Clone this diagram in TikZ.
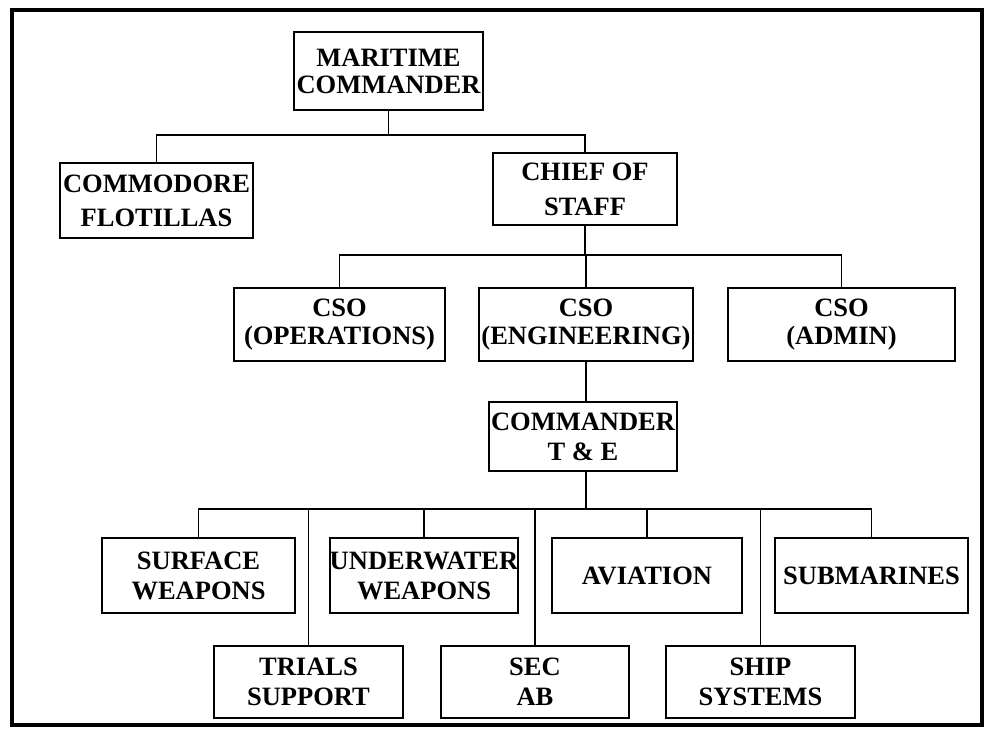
\documentclass[tikz,border=0pt]{standalone}
\usepackage{fontspec}
\setmainfont{Liberation Serif}
\begin{document}
\begin{tikzpicture}[x=1pt,y=-1pt,
  box/.style={draw, line width=2pt, rectangle, align=center, inner sep=0pt,
    font=\fontsize{26.5}{30}\selectfont\bfseries},
  lead/.style={font=\fontsize{26.5}{#1}\selectfont\bfseries},
  link/.style={line width=1.7pt},
  outer/.style={line width=4pt}]
\useasboundingbox (0,0) rectangle (985,735);
\draw[outer] (12,10) rectangle (982,725);

% top level
\node[box, lead=27, minimum width=189pt, minimum height=78pt] (mc) at (388.5,71) {MARITIME\\COMMANDER};
\node[box, lead=34, minimum width=193pt, minimum height=75pt] (cf) at (156.5,200.5) {COMMODORE\\FLOTILLAS};
\node[box, lead=35, minimum width=184pt, minimum height=72pt] (cos) at (585,189) {CHIEF OF\\STAFF};

% staff officers
\node[box, lead=28, minimum width=211pt, minimum height=73pt] (ops) at (339.5,324.5) {CSO\\(OPERATIONS)};
\node[box, lead=28, minimum width=214pt, minimum height=73pt] (eng) at (586,324.5) {CSO\\(ENGINEERING)};
\node[box, lead=28, minimum width=227pt, minimum height=73pt] (adm) at (841.5,324.5) {CSO\\(ADMIN)};

\node[box, lead=30, minimum width=188pt, minimum height=69pt] (cte) at (583,436.5) {COMMANDER\\T \& E};

% trials and evaluation units, upper row
\node[box, minimum width=193pt, minimum height=75pt] (sw) at (198.5,575.5) {SURFACE\\WEAPONS};
\node[box, minimum width=188pt, minimum height=75pt] (uw) at (424,575.5) {UNDERWATER\\WEAPONS};
\node[box, minimum width=190pt, minimum height=75pt] (av) at (647,575.5) {AVIATION};
\node[box, minimum width=193pt, minimum height=75pt] (sub) at (871.5,575.5) {SUBMARINES};

% lower row
\node[box, minimum width=189pt, minimum height=72pt] (ts) at (308.5,682) {TRIALS\\SUPPORT};
\node[box, minimum width=188pt, minimum height=72pt] (sec) at (535,682) {SEC\\AB};
\node[box, minimum width=189pt, minimum height=72pt] (ss) at (760.5,682) {SHIP\\SYSTEMS};

% bus levels
\coordinate (b1) at (0,135);
\coordinate (b2) at (0,255);
\coordinate (b3) at (0,509);

\draw[link] (mc.south) -- (mc.south |- b1);
\draw[link] (cf.north) -- (cf.north |- b1) -- (cos.north |- b1) -- (cos.north);

\draw[link] (cos.south) -- (cos.south |- b2);
\draw[link] (ops.north) -- (ops.north |- b2) -- (adm.north |- b2) -- (adm.north);
\draw[link] (eng.north) -- (eng.north |- b2);

\draw[link] (eng.south) -- (eng.south |- cte.north);

\draw[link] (eng.south |- cte.south) -- (eng.south |- b3);
\draw[link] (sw.north) -- (sw.north |- b3) -- (sub.north |- b3) -- (sub.north);
\draw[link] (uw.north) -- (uw.north |- b3);
\draw[link] (av.north) -- (av.north |- b3);
\draw[link] (ts.north) -- (ts.north |- b3);
\draw[link] (sec.north) -- (sec.north |- b3);
\draw[link] (ss.north) -- (ss.north |- b3);
\end{tikzpicture}
\end{document}
